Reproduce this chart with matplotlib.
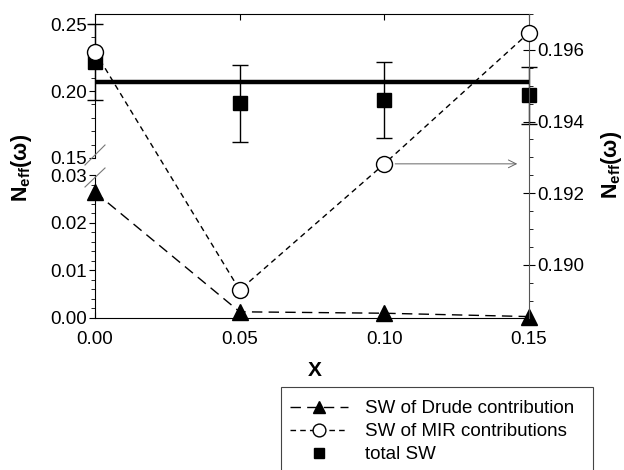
import matplotlib
matplotlib.use("Agg")
import matplotlib.pyplot as plt
from matplotlib.ticker import MultipleLocator, FixedLocator
from matplotlib.lines import Line2D
from matplotlib.patches import Rectangle

plt.rcParams['font.family'] = ['Liberation Sans', 'DejaVu Sans']
plt.rcParams['mathtext.fontset'] = 'custom'
plt.rcParams['mathtext.rm'] = 'Liberation Sans'
plt.rcParams['mathtext.bf'] = 'Liberation Sans:bold'

# ---- data ----
x_vals = [0.00, 0.05, 0.10, 0.15]
x_ticks = [0.00, 0.05, 0.10, 0.15]
x_ticklabels = ["0.00", "0.05", "0.10", "0.15"]
drude_sw = [0.0264, 0.0013, 0.0010, 0.0003]          # left axis, lower part
mir_sw = [0.19595, 0.1893, 0.19282, 0.19648]          # right axis
total_sw = [0.2216, 0.1910, 0.1933, 0.1970]           # left axis, upper part
total_err = [0.0285, 0.0287, 0.0287, 0.0213]
total_ref = 0.2067
labels = ["SW of Drude contribution", "SW of MIR contributions", "total SW"]

W, H = 624, 470
fig = plt.figure(figsize=(W / 100, H / 100), dpi=100)

def fx(px):
    return px / W

def fy(py):
    return 1 - py / H

xl, xr = 95, 529
top, brk_up, brk_lo, bot = 14, 158, 175, 318
ax_up = fig.add_axes([fx(xl), fy(brk_up), fx(xr - xl), (brk_up - top) / H])
ax_lo = fig.add_axes([fx(xl), fy(bot), fx(xr - xl), (bot - brk_lo) / H])
ax_r = fig.add_axes([fx(xl), fy(bot), fx(xr - xl), (bot - top) / H])
ax_r.set_facecolor('none')

tick_fs = 13.5
for ax in (ax_up, ax_lo, ax_r):
    ax.set_xlim(0, 0.15)

# upper
ax_up.set_ylim(0.15, 0.2575)
ax_up.yaxis.set_major_locator(FixedLocator([0.15, 0.20, 0.25]))
ax_up.yaxis.set_minor_locator(MultipleLocator(0.01))
ax_up.set_yticklabels(["0.15", "0.20", "0.25"])
ax_up.spines['bottom'].set_visible(False)
ax_up.spines['right'].set_visible(False)
ax_up.xaxis.set_ticks_position('top')
ax_up.set_xticks(x_ticks)
ax_up.tick_params(axis='x', direction='in', length=4, labeltop=False)
ax_up.tick_params(axis='y', which='major', direction='out', length=4,
                  labelsize=tick_fs, pad=2)
ax_up.tick_params(axis='y', which='minor', direction='out', length=3)

# lower
ax_lo.set_ylim(0, 0.03)
ax_lo.yaxis.set_major_locator(FixedLocator([0.00, 0.01, 0.02, 0.03]))
ax_lo.yaxis.set_minor_locator(MultipleLocator(0.002))
ax_lo.set_yticklabels(["0.00", "0.01", "0.02", "0.03"])
ax_lo.spines['top'].set_visible(False)
ax_lo.spines['right'].set_visible(False)
ax_lo.set_xticks(x_ticks)
ax_lo.set_xticklabels(x_ticklabels)
ax_lo.tick_params(axis='x', direction='in', length=4, labelsize=tick_fs, pad=9)
ax_lo.tick_params(axis='y', which='major', direction='out', length=4,
                  labelsize=tick_fs, pad=2)
ax_lo.tick_params(axis='y', which='minor', direction='out', length=3)

# right
ax_r.set_ylim(0.18852, 0.197)
for s in ('left', 'top', 'bottom'):
    ax_r.spines[s].set_visible(False)
ax_r.set_xticks([])
ax_r.yaxis.tick_right()
ax_r.yaxis.set_major_locator(FixedLocator([0.190, 0.192, 0.194, 0.196]))
ax_r.yaxis.set_minor_locator(MultipleLocator(0.0005))
ax_r.set_yticklabels(["0.190", "0.192", "0.194", "0.196"])
ax_r.tick_params(axis='y', which='major', direction='inout', length=8,
                 labelsize=tick_fs, pad=2)
ax_r.tick_params(axis='y', which='minor', direction='out', length=3)
ax_r.spines['right'].set_color('#555555')

# data
ax_up.axhline(total_ref, color='black', lw=3.2, zorder=3)
ax_up.errorbar(x_vals, total_sw, yerr=total_err, fmt='none', ecolor='black',
               elinewidth=1.0, capsize=5.5, capthick=1.0, clip_on=False, zorder=4)
sq, = ax_up.plot(x_vals, total_sw, ls='none', marker='s', ms=9.5, color='black',
                 clip_on=False, zorder=5, label=labels[2])

dr, = ax_lo.plot(x_vals, drude_sw, color='black', lw=1.0, dashes=(7.5, 4.5),
                 marker='^', ms=11.5, mfc='black', mec='black', clip_on=False,
                 zorder=5, label=labels[0])

mi, = ax_r.plot(x_vals, mir_sw, color='black', lw=1.0, dashes=(4, 3),
                marker='o', ms=11.5, mfc='white', mec='black', mew=1.0,
                clip_on=False, zorder=5, label=labels[1])

ax_r.annotate('', xy=(0.1469, mir_sw[2]), xytext=(0.1028, mir_sw[2]),
              arrowprops=dict(arrowstyle='->', color='#666666', lw=0.7,
                              mutation_scale=14))

# break marks
for (x0, y0, x1, y1) in [(85, 165, 105, 145), (85, 187, 105, 168)]:
    fig.add_artist(Line2D([fx(x0), fx(x1)], [fy(y0), fy(y1)],
                          color='#777777', lw=0.8))

# axis labels
ylab = r'N$_{\mathbf{eff}}$(ω)'
fig.text(fx(22), fy(168), ylab, rotation=90, ha='center', va='center',
         fontsize=15.5, fontweight='bold')
fig.text(fx(611), fy(165), ylab, rotation=90, ha='center', va='center',
         fontsize=15.5, fontweight='bold')
fig.text(fx(315), fy(370), 'X', ha='center', va='center', fontsize=15,
         fontweight='bold')

# legend
fig.add_artist(Rectangle((fx(281), fy(472)), fx(593 - 281), (472 - 387) / H,
                         transform=fig.transFigure, fill=False,
                         edgecolor='#444444', lw=0.8))
fig.legend(handles=[dr, mi, sq], labels=labels, loc='upper left',
           bbox_to_anchor=(fx(290), fy(400)), borderaxespad=0, borderpad=0,
           frameon=False, fontsize=13.5, handlelength=3.1, handletextpad=0.9,
           labelspacing=0.32, numpoints=1, markerscale=0.8)

fig.savefig('out.png', dpi=100)
